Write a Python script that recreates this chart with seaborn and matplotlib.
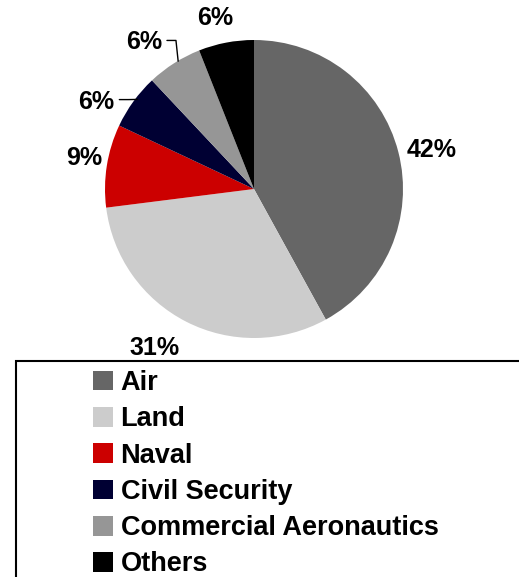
import numpy as np
import matplotlib
matplotlib.use("Agg")
import matplotlib.pyplot as plt
import seaborn as sns
from matplotlib.patches import Rectangle

sns.set_theme(style="white")
plt.rcParams['font.family'] = ['Liberation Sans', 'DejaVu Sans']

categories = ["Air", "Land", "Naval", "Civil Security", "Commercial Aeronautics", "Others"]
shares = [42, 31, 9, 6, 6, 6]
colors = ["#666666", "#cccccc", "#cc0000", "#000033", "#969696", "#000000"]

W, H = 519, 577
fig = plt.figure(figsize=(W / 100, H / 100), dpi=100)
ax = fig.add_axes([0, 0, 1, 1])

cx, cy, R = 254, H - 189, 149
wedges, _ = ax.pie(shares, colors=colors, startangle=90, counterclock=False,
                   center=(cx, cy), radius=R, frame=True,
                   wedgeprops=dict(linewidth=0))
ax.set_xlim(0, W)
ax.set_ylim(0, H)
ax.set_aspect("equal")
ax.axis("off")

# label placement (distance factor, angle tweak in degrees, leader line?)
label_style = [(1.22, -2.0, False), (1.26, -5, False), (1.16, -1.5, False),
               (1.21, 7, True), (1.23, 4.5, True), (1.18, 2, False)]
for w, s, (dist, dang, leader) in zip(wedges, shares, label_style):
    mid = (w.theta1 + w.theta2) / 2.0
    a = np.deg2rad(mid + dang)
    tx, ty = cx + dist * R * np.cos(a), cy + dist * R * np.sin(a)
    ax.text(tx, ty, f"{s}%", ha="center", va="center", fontsize=18,
            fontweight="bold", color="black")
    if leader:
        am = np.deg2rad(mid)
        ex, ey = cx + R * np.cos(am), cy + R * np.sin(am)
        sx = tx + 23
        ax.plot([sx, sx + 9, ex + 4], [ty + 2, ty + 2, ey + 2], color="black", lw=1)

# legend frame (extends beyond figure edges)
fig.patches.append(Rectangle((16 / W, -0.1), 1.2, (H - 361) / H + 0.1,
                             transform=fig.transFigure, fill=False,
                             edgecolor="black", lw=1.5))

fig.legend(wedges, categories, loc="upper left",
           bbox_to_anchor=(93 / W, 1 - 370 / H), frameon=False,
           prop=dict(weight="bold", size=19.5), labelcolor="black",
           handlelength=0.74, handleheight=0.74, handletextpad=0.28,
           labelspacing=0.38, borderpad=0, borderaxespad=0)

fig.savefig("out.png", dpi=100)
